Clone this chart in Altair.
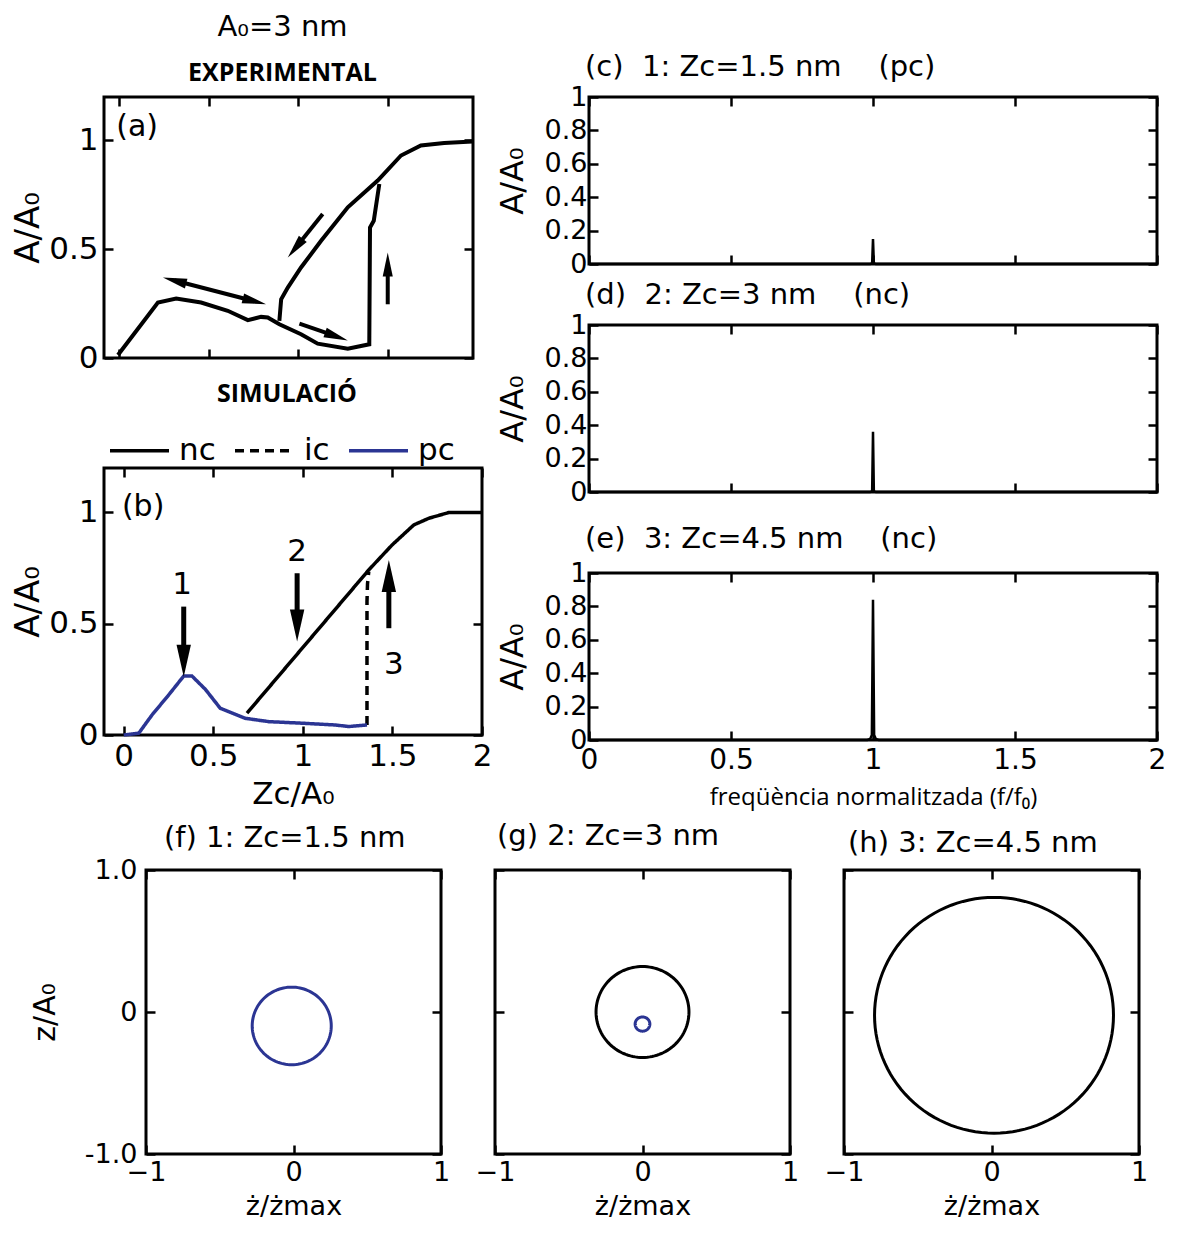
import math
import altair as alt
import pandas as pd

FONT = "DejaVu Sans"
SANS = "Open Sans"
BLACK = "#000000"
BLUE = "#2b3593"
TICK = {"expr": "-9"}
NB = "\u00a0"

# ---------------- (a) experimental ----------------
a_seg1_x = [-0.007, 0.216, 0.318, 0.457, 0.606, 0.718, 0.792, 0.829, 0.894, 1.015, 1.108, 1.276, 1.396, 1.400, 1.421, 1.452]
a_seg1_y = [0.014, 0.255, 0.273, 0.255, 0.217, 0.174, 0.189, 0.186, 0.155, 0.109, 0.066, 0.043, 0.063, 0.600, 0.631, 0.800]
a_seg2_x = [0.894, 0.904, 0.941, 1.015, 1.127, 1.276, 1.443, 1.573, 1.684, 1.814, 1.973]
a_seg2_y = [0.171, 0.270, 0.324, 0.416, 0.539, 0.693, 0.816, 0.931, 0.977, 0.988, 0.995]
a_arrow_x1 = [0.244, 1.136, 1.006, 1.499]
a_arrow_y1 = [0.370, 0.662, 0.158, 0.247]
a_arrow_x2 = [0.820, 0.941, 1.276, 1.499]
a_arrow_y2 = [0.247, 0.462, 0.081, 0.485]
a_arrow_both = [True, False, False, False]

# ---------------- (b) simulation ----------------
b_nc_x = [0.688, 1.368, 1.498, 1.619, 1.703, 1.815, 2.0]
b_nc_y = [0.098, 0.742, 0.854, 0.944, 0.974, 1.0, 1.0]
b_ic_x = [1.358, 1.358, 1.361, 1.368]
b_ic_y = [0.045, 0.60, 0.68, 0.735]
b_pc_x = [0.0, 0.084, 0.158, 0.251, 0.335, 0.381, 0.456, 0.539, 0.679, 0.810, 0.996, 1.181, 1.256, 1.358]
b_pc_y = [0.0, 0.008, 0.09, 0.18, 0.265, 0.265, 0.205, 0.12, 0.075, 0.06, 0.053, 0.045, 0.038, 0.045]
b_arrow_x1 = [0.335, 0.968, 1.480]
b_arrow_y1 = [0.577, 0.727, 0.480]
b_arrow_x2 = [0.335, 0.968, 1.480]
b_arrow_y2 = [0.262, 0.420, 0.787]
b_lab_text = ["1", "2", "3"]
b_lab_x = [0.326, 0.968, 1.508]
b_lab_y = [0.674, 0.824, 0.315]
series_names = ["nc", "ic", "pc"]

# ---------------- (c)(d)(e) spectra ----------------
freq_c = [0.0, 0.99, 0.997, 1.0, 1.003, 1.01, 2.0]
amp_c = [0.0, 0.0, 0.004, 0.15, 0.004, 0.0, 0.0]
freq_d = [0.0, 0.99, 0.997, 1.0, 1.003, 1.01, 2.0]
amp_d = [0.0, 0.0, 0.006, 0.36, 0.006, 0.0, 0.0]
freq_e = [0.0, 0.98, 0.99, 0.996, 1.0, 1.004, 1.01, 1.02, 2.0]
amp_e = [0.0, 0.0, 0.006, 0.03, 0.84, 0.03, 0.006, 0.0, 0.0]

# ---------------- (f)(g)(h) phase orbits ----------------
orb_panel = ["f", "g", "g", "h"]
orb_cx = [-0.012, 0.0, 0.0, 0.017]
orb_cy = [-0.098, 0.0, -0.085, -0.023]
orb_rx = [0.268, 0.315, 0.05, 0.81]
orb_ry = [0.273, 0.32, 0.05, 0.83]
orb_kind = ["pc", "nc", "pc", "nc"]


def ax(values, orient, size, labels=True, title=None, tsize=None, fmt="~g",
       pad=6, tpad=8, label_expr=None, tfont=FONT):
    kw = dict(values=values, orient=orient, labels=labels, tickSize=TICK,
              tickWidth=2.5, tickColor=BLACK, domain=False, grid=False,
              labelFont=FONT, labelFontSize=size, labelColor=BLACK, labelFlush=False,
              labelPadding=9 + pad, format=fmt, title=title)
    if label_expr:
        kw["labelExpr"] = label_expr
    if title is not None:
        kw.update(titleFont=tfont, titleFontSize=tsize or size,
                  titleFontWeight="normal", titleColor=BLACK, titlePadding=tpad)
    return alt.Axis(**kw)


def framed(df, xs, ys, w, h, xa, ya, xo, yo, layers, title=None):
    base = alt.Chart(df).mark_point(size=1, opacity=0)
    l1 = base.encode(x=alt.X("x:Q", scale=xs, axis=xa), y=alt.Y("y:Q", scale=ys, axis=ya))
    l2 = base.encode(x=alt.X("x:Q", scale=xs, axis=xo), y=alt.Y("y:Q", scale=ys, axis=yo))
    ch = alt.layer(l1, l2, *layers).resolve_axis(x="independent", y="independent")
    ch = ch.properties(width=w, height=h)
    if title is not None:
        ch = ch.properties(title=title)
    return ch


def arrow_layers(x1s, y1s, x2s, y2s, both, sx, sy, r, shape, shaft_w, xs, ys):
    shafts, heads = [], []
    for x1, y1, x2, y2, bb in zip(x1s, y1s, x2s, y2s, both):
        dxp = (x2 - x1) * sx
        dyp = -(y2 - y1) * sy
        L = math.hypot(dxp, dyp)
        ux, uy = dxp / L, dyp / L
        ang = math.degrees(math.atan2(ux, -uy)) % 360
        hx, hy = x2 - r * ux / sx, y2 + r * uy / sy
        heads.append({"x": hx, "y": hy, "ang": ang})
        sx1, sy1 = x1, y1
        if bb:
            gx, gy = x1 + r * ux / sx, y1 - r * uy / sy
            heads.append({"x": gx, "y": gy, "ang": (ang + 180) % 360})
            sx1, sy1 = gx, gy
        shafts.append({"x": sx1, "y": sy1, "x2": hx, "y2": hy})
    sh = alt.Chart(pd.DataFrame(shafts)).mark_rule(color=BLACK, strokeWidth=shaft_w).encode(
        x=alt.X("x:Q", scale=xs, axis=None), y=alt.Y("y:Q", scale=ys, axis=None),
        x2="x2:Q", y2="y2:Q")
    hd = alt.Chart(pd.DataFrame(heads)).mark_point(
        shape=shape, filled=True, size=(2 * r) ** 2, color=BLACK, opacity=1, strokeWidth=0
    ).encode(x=alt.X("x:Q", scale=xs, axis=None), y=alt.Y("y:Q", scale=ys, axis=None),
             angle=alt.Angle("ang:Q", scale=None))
    return [sh, hd]


def text_layer(texts, xsv, ysv, xs, ys, size, align="center"):
    df = pd.DataFrame({"x": xsv, "y": ysv, "t": texts})
    return alt.Chart(df).mark_text(font=FONT, fontSize=size, color=BLACK, align=align,
                                   baseline="middle").encode(
        x=alt.X("x:Q", scale=xs, axis=None), y=alt.Y("y:Q", scale=ys, axis=None), text="t:N")


def spacer():
    return alt.Chart(pd.DataFrame({"x": [0]})).mark_point(size=1, opacity=0).encode(
        x=alt.X("x:Q", axis=None), y=alt.Y("x:Q", axis=None)
    ).properties(width=1, height=1, view=alt.ViewBackground(strokeWidth=0))


# ================= panel (a) =================
WA, HA = 369, 261
xs_a = alt.Scale(domain=[-0.085, 1.975], nice=False, zero=False)
ys_a = alt.Scale(domain=[0, 1.2], nice=False, zero=False)
df_a = pd.DataFrame({
    "x": a_seg1_x + a_seg2_x, "y": a_seg1_y + a_seg2_y,
    "seg": ["s1"] * len(a_seg1_x) + ["s2"] * len(a_seg2_x),
    "k": list(range(len(a_seg1_x))) + list(range(len(a_seg2_x))),
})
line_a = alt.Chart(df_a).mark_line(color=BLACK, strokeWidth=4).encode(
    x=alt.X("x:Q", scale=xs_a, axis=None), y=alt.Y("y:Q", scale=ys_a, axis=None),
    detail="seg:N", order="k:Q")
arr_a = arrow_layers(a_arrow_x1, a_arrow_y1, a_arrow_x2, a_arrow_y2, a_arrow_both,
                     WA / 2.06, HA / 1.2, 12, "M0,-1L0.42,1L-0.42,1Z", 4, xs_a, ys_a)
lab_a = text_layer(["(a)"], [-0.017], [1.062], xs_a, ys_a, 30, align="left")
chart_a = framed(
    df_a, xs_a, ys_a, WA, HA,
    ax([0, 0.5, 1, 1.5], "bottom", 30, labels=False),
    ax([0, 0.5, 1], "left", 31, title="A/A₀", tsize=34, tpad=3),
    ax([0, 0.5, 1, 1.5], "top", 30, labels=False),
    ax([0, 0.5, 1], "right", 30, labels=False),
    [line_a] + arr_a + [lab_a],
    title=alt.TitleParams("A₀=3 nm", subtitle="EXPERIMENTAL", font=FONT, fontSize=29,
                          fontWeight="normal", color=BLACK, anchor="middle", frame="group", dx=-6,
                          subtitleFont=SANS, subtitleFontSize=25, subtitleFontWeight="bold",
                          subtitleColor=BLACK, subtitlePadding=19, offset=10),
)

# ================= panel (b) =================
WB, HB = 378, 267
xs_b = alt.Scale(domain=[-0.11, 2.0], nice=False, zero=False)
ys_b = alt.Scale(domain=[0, 1.2], nice=False, zero=False)
df_b = pd.DataFrame({
    "x": b_nc_x + b_ic_x + b_pc_x,
    "y": b_nc_y + b_ic_y + b_pc_y,
    "serie": ["nc"] * len(b_nc_x) + ["ic"] * len(b_ic_x) + ["pc"] * len(b_pc_x),
    "k": list(range(len(b_nc_x))) + list(range(len(b_ic_x))) + list(range(len(b_pc_x))),
})
leg = alt.Legend(orient="none", legendX=4, legendY=-49, direction="horizontal", columns=3,
                 title=None, symbolType="stroke", symbolSize=3481, symbolStrokeWidth=4,
                 labelFont=FONT, labelFontSize=31, labelColor=BLACK, labelOffset=8,
                 columnPadding=12, padding=0)
line_b = alt.Chart(df_b).mark_line().encode(
    x=alt.X("x:Q", scale=xs_b, axis=None), y=alt.Y("y:Q", scale=ys_b, axis=None),
    color=alt.Color("serie:N", scale=alt.Scale(domain=series_names, range=[BLACK, BLACK, BLUE]), legend=leg),
    strokeDash=alt.StrokeDash("serie:N", scale=alt.Scale(domain=series_names, range=[[1, 0], [9, 6], [1, 0]]), legend=leg),
    strokeWidth=alt.StrokeWidth("serie:N", scale=alt.Scale(domain=series_names, range=[3.5, 3.5, 4.5]), legend=None),
    order="k:Q")
arr_b = arrow_layers(b_arrow_x1, b_arrow_y1, b_arrow_x2, b_arrow_y2, [False] * 3,
                     WB / 2.11, HB / 1.2, 16, "M0,-1L0.45,1L-0.45,1Z", 5, xs_b, ys_b)
lab_b = text_layer(b_lab_text, b_lab_x, b_lab_y, xs_b, ys_b, 31)
lab_b2 = text_layer(["(b)"], [-0.01], [1.025], xs_b, ys_b, 30, align="left")
chart_b = framed(
    df_b, xs_b, ys_b, WB, HB,
    ax([0, 0.5, 1, 1.5, 2], "bottom", 31, title="Zc/A₀", tsize=31, tpad=8),
    ax([0, 0.5, 1], "left", 31, title="A/A₀", tsize=34, tpad=3),
    ax([0, 0.5, 1, 1.5, 2], "top", 30, labels=False),
    ax([0, 0.5, 1], "right", 30, labels=False),
    [line_b] + arr_b + [lab_b, lab_b2],
    title=alt.TitleParams("SIMULACIÓ", font=SANS, fontSize=25, fontWeight="bold",
                          color=BLACK, anchor="middle", frame="group", dx=-6, offset=12),
).resolve_scale(color="independent", strokeDash="independent", strokeWidth="independent")

# ================= panels (c)(d)(e) =================
WS, HS = 568, 167
xs_s = alt.Scale(domain=[0, 2], nice=False, zero=False)
ys_s = alt.Scale(domain=[0, 1], nice=False, zero=False)


def spec_panel(fr, am, title, last, toff):
    df = pd.DataFrame({"x": fr, "y": am, "k": list(range(len(fr)))})
    ln = alt.Chart(df).mark_line(color=BLACK, strokeWidth=2.5).encode(
        x=alt.X("x:Q", scale=xs_s, axis=None), y=alt.Y("y:Q", scale=ys_s, axis=None), order="k:Q")
    if last:
        xa = ax([0, 0.5, 1, 1.5, 2], "bottom", 28, title="freqüència normalitzada (f/f₀)",
                tsize=24, tpad=11, tfont=SANS)
    else:
        xa = ax([0, 0.5, 1, 1.5, 2], "bottom", 28, labels=False)
    return framed(
        df, xs_s, ys_s, WS, HS, xa,
        ax([0, 0.2, 0.4, 0.6, 0.8, 1], "left", 27, title="A/A₀", tsize=32, tpad=15, pad=2),
        ax([0, 0.5, 1, 1.5, 2], "top", 28, labels=False),
        ax([0, 0.2, 0.4, 0.6, 0.8, 1], "right", 28, labels=False),
        [ln],
        title=alt.TitleParams(title, font=FONT, fontSize=29, fontWeight="normal", color=BLACK,
                              anchor="start", dx=-4, offset=toff, frame="group"),
    )


chart_c = spec_panel(freq_c, amp_c, f"(c){NB}{NB}1:{NB}Zc=1.5{NB}nm{NB}{NB}{NB}{NB}(pc)", False, 1)
chart_d = spec_panel(freq_d, amp_d, f"(d){NB}{NB}2:{NB}Zc=3{NB}nm{NB}{NB}{NB}{NB}(nc)", False, 1)
chart_e = spec_panel(freq_e, amp_e, f"(e){NB}{NB}3:{NB}Zc=4.5{NB}nm{NB}{NB}{NB}{NB}(nc)", True, 5)

# ================= panels (f)(g)(h) =================
WO, HO = 295, 284
xs_o = alt.Scale(domain=[-1, 1], nice=False, zero=False)
ys_o = alt.Scale(domain=[-1, 1], nice=False, zero=False)
orb_color = {"pc": BLUE, "nc": BLACK}


def orbit_panel(key, title, dx, first, toff):
    layers = []
    for p, cx, cy, rx, ry, kd in zip(orb_panel, orb_cx, orb_cy, orb_rx, orb_ry, orb_kind):
        if p != key:
            continue
        layers.append(
            alt.Chart(alt.sequence(0, 363, 3, as_="t"))
            .transform_calculate(
                x=f"{cx} + {rx} * cos(datum.t * PI / 180)",
                y=f"{cy} + {ry} * sin(datum.t * PI / 180)",
            )
            .mark_line(color=orb_color[kd], strokeWidth=3)
            .encode(x=alt.X("x:Q", scale=xs_o, axis=None), y=alt.Y("y:Q", scale=ys_o, axis=None),
                    order="t:Q")
        )
    df = pd.DataFrame({"x": [-1, 1], "y": [-1, 1]})
    if first:
        ya = ax([-1, 0, 1], "left", 27, title="z/A₀", tsize=30, tpad=24, pad=9,
                label_expr="datum.value == 0 ? '0' : (datum.value > 0 ? '1.0' : '-1.0')")
    else:
        ya = ax([-1, 0, 1], "left", 27, labels=False)
    return framed(
        df, xs_o, ys_o, WO, HO,
        ax([-1, 0, 1], "bottom", 27, title="ż/żmax", tsize=27, tpad=8, pad=5),
        ya,
        ax([-1, 0, 1], "top", 28, labels=False),
        ax([-1, 0, 1], "right", 28, labels=False),
        layers,
        title=alt.TitleParams(title, font=FONT, fontSize=29, fontWeight="normal", color=BLACK,
                              anchor="start", dx=dx, offset=toff, frame="group"),
    )


chart_f = orbit_panel("f", "(f) 1: Zc=1.5 nm", 18, True, 3)
chart_g = orbit_panel("g", "(g) 2: Zc=3 nm", 2, False, 18)
chart_h = orbit_panel("h", "(h) 3: Zc=4.5 nm", 4, False, 11)

left_col = alt.vconcat(chart_a, chart_b, spacing=5).resolve_scale(
    color="independent", strokeDash="independent").resolve_legend(
    color="independent", strokeDash="independent")
right_col = alt.vconcat(alt.vconcat(chart_c, chart_d, spacing=0), chart_e, spacing=16)
top = alt.hconcat(left_col, right_col, spacing=0).resolve_legend(
    color="independent", strokeDash="independent")
bottom = alt.hconcat(spacer(), alt.hconcat(chart_f, chart_g, chart_h, spacing=21), spacing=-77)

chart = (
    alt.vconcat(top, bottom, spacing=9)
    .resolve_legend(color="independent", strokeDash="independent")
    .properties(padding={"left": 2, "top": 3, "right": 0, "bottom": 0})
    .configure_view(stroke=BLACK, strokeWidth=3)
)

chart.save("out.html", embed_options={"renderer": "svg", "actions": False})
